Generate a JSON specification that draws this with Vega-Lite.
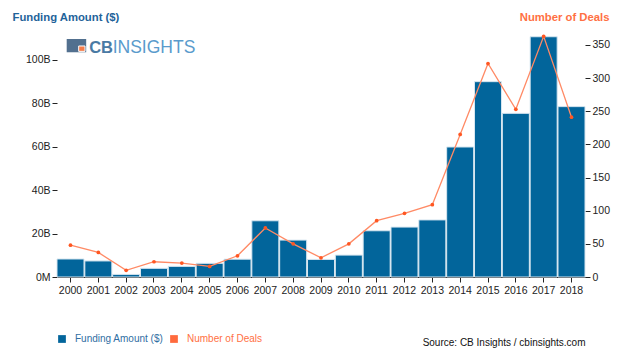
{
  "$schema": "https://vega.github.io/schema/vega-lite/v6.json",
  "width": 528,
  "height": 242,
  "autosize": {"type": "none"},
  "padding": {"left": 57, "top": 35, "right": 51, "bottom": 78},
  "background": "white",
  "config": {
    "font": "Liberation Sans",
    "view": {"stroke": null},
    "axis": {"labelFont": "Liberation Sans", "labelFontSize": 10.5, "labelColor": "#222222", "tickColor": "#222222", "domainColor": "#222222", "grid": false, "tickSize": 5}
  },
  "data": {
    "values": [
      {"year": "2000", "funding": 8.3, "deals": 48},
      {"year": "2001", "funding": 7.4, "deals": 37},
      {"year": "2002", "funding": 1.2, "deals": 10},
      {"year": "2003", "funding": 4.0, "deals": 23},
      {"year": "2004", "funding": 4.9, "deals": 21},
      {"year": "2005", "funding": 6.3, "deals": 16},
      {"year": "2006", "funding": 8.2, "deals": 32},
      {"year": "2007", "funding": 25.9, "deals": 74},
      {"year": "2008", "funding": 17.0, "deals": 50},
      {"year": "2009", "funding": 8.1, "deals": 29},
      {"year": "2010", "funding": 10.1, "deals": 50},
      {"year": "2011", "funding": 21.3, "deals": 85},
      {"year": "2012", "funding": 23.0, "deals": 96},
      {"year": "2013", "funding": 26.3, "deals": 109},
      {"year": "2014", "funding": 59.9, "deals": 215},
      {"year": "2015", "funding": 90.0, "deals": 322},
      {"year": "2016", "funding": 75.4, "deals": 253},
      {"year": "2017", "funding": 110.7, "deals": 363},
      {"year": "2018", "funding": 78.5, "deals": 241}
    ]
  },
  "layer": [
    {
      "mark": {"type": "bar", "stroke": "#d7e6f0", "strokeWidth": 1},
      "encoding": {
        "x": {
          "field": "year", "type": "ordinal",
          "scale": {"paddingInner": 0.03, "paddingOuter": 0},
          "axis": {
            "labelAngle": 0, "labelPadding": 3, "domain": true,
            "title": "Source: CB Insights / cbinsights.com",
            "titleAnchor": "end", "titleFontWeight": "normal", "titleFontSize": 10,
            "titleColor": "#111111", "titlePadding": 42, "titleFont": "Liberation Sans"
          }
        },
        "y": {
          "field": "funding", "type": "quantitative",
          "scale": {"domain": [0, 111.5], "nice": false},
          "axis": {
            "values": [0, 20, 40, 60, 80, 100],
            "labelExpr": "datum.value == 0 ? '0M' : datum.value + 'B'",
            "domain": false, "labelPadding": 2,
            "title": "Funding Amount ($)", "titleAngle": 0, "titleAlign": "left",
            "titleBaseline": "middle", "titleX": -45, "titleY": -18,
            "titleColor": "#1f639a", "titleFontSize": 11.3, "titleFontWeight": "bold"
          }
        },
        "color": {
          "datum": "Funding Amount ($)", "type": "nominal",
          "scale": {"domain": ["Funding Amount ($)", "Number of Deals"], "range": ["#02659b", "#ff6a3d"]},
          "legend": {
            "orient": "none", "legendX": 0, "legendY": 299, "direction": "horizontal",
            "title": null, "symbolType": "square", "symbolSize": 60, "symbolStrokeWidth": 0,
            "labelFontSize": 10, "labelFont": "Liberation Sans", "columnPadding": 5, "labelOffset": 8,
            "labelColor": {"expr": "datum.label == 'Number of Deals' ? '#ff7043' : '#2f6ea3'"}
          }
        }
      }
    },
    {
      "mark": {"type": "line", "color": "#ff8a65", "strokeWidth": 1.3, "point": {"filled": true, "color": "#ff5722", "size": 14}},
      "encoding": {
        "x": {"field": "year", "type": "ordinal"},
        "y": {
          "field": "deals", "type": "quantitative",
          "scale": {"domain": [0, 365], "nice": false},
          "axis": {
            "orient": "right", "values": [0, 50, 100, 150, 200, 250, 300, 350],
            "domain": false, "labelPadding": 2,
            "title": "Number of Deals", "titleAngle": 0, "titleAlign": "right",
            "titleBaseline": "middle", "titleX": 24, "titleY": -18,
            "titleColor": "#ff7043", "titleFontSize": 11.3, "titleFontWeight": "bold"
          }
        }
      }
    },
    {
      "data": {"values": [{"part": "icon"}]},
      "mark": {"type": "point", "shape": "M -1 -0.68 H 1 V 0.68 H -1 Z", "filled": true, "color": "#52708f", "size": 380, "opacity": 1},
      "encoding": {
        "x": {"datum": "2000", "bandPosition": 0.72},
        "y": {"datum": 106.6, "scale": {"domain": [0, 111.5], "nice": false}, "axis": null}
      }
    },
    {
      "data": {"values": [{"part": "icon2"}]},
      "mark": {"type": "point", "shape": "M -1 -0.85 H 1 V 0.85 H -1 Z", "filled": true, "color": "#f47c4a", "size": 40, "stroke": "white", "strokeWidth": 1, "opacity": 1},
      "encoding": {
        "x": {"datum": "2000", "bandPosition": 0.92},
        "y": {"datum": 105.2, "scale": {"domain": [0, 111.5], "nice": false}, "axis": null}
      }
    },
    {
      "data": {"values": [{"part": "CB"}]},
      "mark": {"type": "text", "align": "left", "baseline": "alphabetic", "fontSize": 16.5, "fontWeight": "bold", "color": "#4a7aa4", "font": "Liberation Sans"},
      "encoding": {
        "x": {"datum": "2001", "bandPosition": 0.16},
        "y": {"datum": 103.3, "scale": {"domain": [0, 111.5], "nice": false}, "axis": null},
        "text": {"field": "part"}
      }
    },
    {
      "data": {"values": [{"part": "INSIGHTS"}]},
      "mark": {"type": "text", "align": "left", "baseline": "alphabetic", "fontSize": 17.5, "fontWeight": "normal", "color": "#5a9bcc", "font": "Liberation Sans"},
      "encoding": {
        "x": {"datum": "2002", "bandPosition": 0.0},
        "y": {"datum": 103.3, "scale": {"domain": [0, 111.5], "nice": false}, "axis": null},
        "text": {"field": "part"}
      }
    }
  ],
  "resolve": {"scale": {"y": "independent"}}
}
